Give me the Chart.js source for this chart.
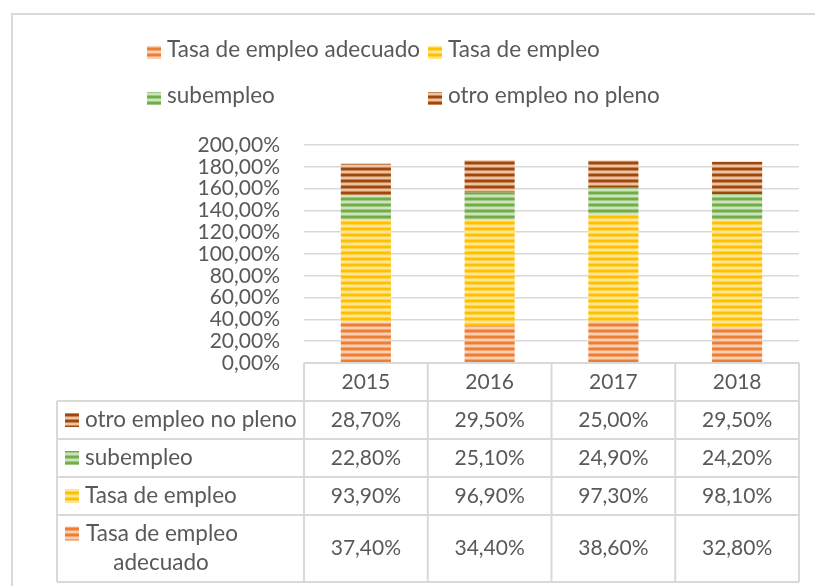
<!DOCTYPE html>
<html>
<head>
<meta charset="utf-8">
<script src="https://cdn.jsdelivr.net/npm/chart.js@4/dist/chart.umd.min.js"></script>
<style>
  body { margin: 0; background: #fff; }
  #wrap { width: 815px; height: 586px; }
</style>
</head>
<body>
<div id="wrap"><canvas id="myChart"></canvas></div>
<script>
const years = ['2015', '2016', '2017', '2018'];
const adecuado = [37.4, 34.4, 38.6, 32.8];
const tasaEmpleo = [93.9, 96.9, 97.3, 98.1];
const subempleo = [22.8, 25.1, 24.9, 24.2];
const otroEmpleo = [28.7, 29.5, 25.0, 29.5];
const seriesNames = ['Tasa de empleo adecuado', 'Tasa de empleo', 'subempleo', 'otro empleo no pleno'];

const textColor = '#595959';
const lineColor = '#d9d9d9';
const fontName = 'Lato';

// striped fill like the excel bars
function stripes(base, light) {
    const c = document.createElement('canvas');
    c.width = 8;
    c.height = 6;
    const g = c.getContext('2d');
    g.fillStyle = base;
    g.fillRect(0, 0, 8, 6);
    g.fillStyle = light;
    g.globalAlpha = 0.5;
    g.fillRect(0, 2, 8, 1);
    g.fillRect(0, 5, 8, 1);
    g.globalAlpha = 1;
    g.fillRect(0, 3, 8, 2);
    return g.createPattern(c, 'repeat');
}

const fills = [
    stripes('#ed7d31', '#f9cfb3'),
    stripes('#ffc000', '#ffe596'),
    stripes('#70ad47', '#cde3bd'),
    stripes('#9e480e', '#efc3a2')
];

function pct(v) {
    return v.toFixed(2).replace('.', ',') + '%';
}

const extras = {
    id: 'extras',
    beforeDraw(chart) {
        const ctx = chart.ctx;
        ctx.save();
        ctx.strokeStyle = lineColor;
        ctx.lineWidth = 2;
        ctx.strokeRect(12, 14, 900, 900);
        ctx.restore();
    },
    afterDraw(chart) {
        const ctx = chart.ctx;
        const area = chart.chartArea;
        const xs = chart.scales.x;
        ctx.save();
        ctx.fillStyle = textColor;
        ctx.textBaseline = 'middle';
        const labelFont = '22.5px ' + fontName;
        const numFont = '21px ' + fontName;

        // legend on top, two columns
        ctx.font = labelFont;
        const legendPos = [[147, 50], [428, 50], [147, 96], [428, 96]];
        seriesNames.forEach((name, i) => {
            const [lx, ly] = legendPos[i];
            ctx.fillStyle = fills[i];
            ctx.fillRect(lx, ly - 4, 14, 13);
            ctx.fillStyle = textColor;
            ctx.textAlign = 'left';
            ctx.fillText(name, lx + 20, ly);
        });

        // data table
        const colW = area.width / years.length;
        const top = area.bottom;
        const headH = 38;
        const rowH = [38, 38, 38, 67];
        const tableLeft = 57;
        let bottom = top + headH;
        rowH.forEach(h => bottom += h);

        ctx.strokeStyle = lineColor;
        ctx.lineWidth = 2;
        ctx.beginPath();
        ctx.moveTo(area.left, top);
        ctx.lineTo(area.right, top);
        for (let i = 0; i <= years.length; i++) {
            const x = area.left + i * colW;
            ctx.moveTo(x, top);
            ctx.lineTo(x, bottom);
        }
        let y = top + headH;
        ctx.moveTo(tableLeft, y);
        ctx.lineTo(area.right, y);
        rowH.forEach(h => {
            y += h;
            ctx.moveTo(tableLeft, y);
            ctx.lineTo(area.right, y);
        });
        ctx.moveTo(tableLeft, top + headH);
        ctx.lineTo(tableLeft, bottom);
        ctx.stroke();

        ctx.font = numFont;
        ctx.textAlign = 'center';
        years.forEach((yr, i) => {
            ctx.fillText(yr, xs.getPixelForValue(i), top + headH / 2);
        });

        const rows = chart.data.datasets.slice().reverse();
        let ry = top + headH;
        rows.forEach((ds, r) => {
            const h = rowH[r];
            const cy = ry + h / 2;
            const idx = chart.data.datasets.indexOf(ds);
            ctx.font = numFont;
            ctx.textAlign = 'center';
            ds.data.forEach((v, i) => {
                ctx.fillText(pct(v), xs.getPixelForValue(i), cy);
            });
            ctx.font = labelFont;
            ctx.fillStyle = fills[idx];
            if (ds.label === 'Tasa de empleo adecuado') {
                ctx.fillRect(65, cy - 22, 14, 14);
                ctx.fillStyle = textColor;
                ctx.fillText('Tasa de empleo', 162, cy - 15);
                ctx.fillText('adecuado', 161, cy + 14);
            } else {
                ctx.fillRect(65, cy - 7, 14, 14);
                ctx.fillStyle = textColor;
                ctx.textAlign = 'left';
                ctx.fillText(ds.label, 85, cy);
            }
            ry += h;
        });
        ctx.restore();
    }
};

const ctx = document.getElementById('myChart');
const myChart = new Chart(ctx, {
    type: 'bar',
    data: {
        labels: years,
        datasets: [
            { label: seriesNames[0], data: adecuado, backgroundColor: fills[0] },
            { label: seriesNames[1], data: tasaEmpleo, backgroundColor: fills[1] },
            { label: seriesNames[2], data: subempleo, backgroundColor: fills[2] },
            { label: seriesNames[3], data: otroEmpleo, backgroundColor: fills[3] }
        ]
    },
    options: {
        responsive: true,
        maintainAspectRatio: false,
        animation: false,
        datasets: {
            bar: {
                barPercentage: 1,
                categoryPercentage: 0.405
            }
        },
        layout: {
            padding: { top: 145, bottom: 223, right: 16, left: 0 }
        },
        plugins: {
            legend: { display: false },
            tooltip: { enabled: false }
        },
        scales: {
            x: {
                stacked: true,
                display: false
            },
            y: {
                stacked: true,
                min: 0,
                max: 200,
                border: { display: false },
                grid: {
                    color: lineColor,
                    lineWidth: 1.5,
                    drawTicks: false
                },
                ticks: {
                    stepSize: 20,
                    autoSkip: false,
                    padding: 24,
                    color: textColor,
                    font: { family: fontName, size: 21 },
                    callback: v => pct(v)
                },
                afterFit: function(scale) {
                    scale.width = 304;
                }
            }
        }
    },
    plugins: [extras]
});
</script>
</body>
</html>
